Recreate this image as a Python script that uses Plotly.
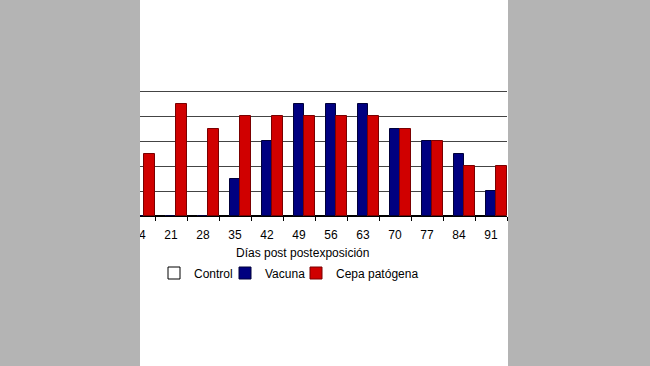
import plotly.graph_objects as go

dias = ["14", "21", "28", "35", "42", "49", "56", "63", "70", "77", "84", "91"]
control = [0, 0, 0, 0, 0, 0, 0, 0, 0, 0, 0, 0]
vacuna = [0, 0, 0, 1.5, 3, 4.5, 4.5, 4.5, 3.5, 3, 2.5, 1]
cepa = [2.5, 4.5, 3.5, 4, 4, 4, 4, 4, 3.5, 3, 2, 2]

W, H = 650, 366
PL, PR, PT, PB = 123, 507, 88, 216  # plot area in pixels
YMAX = 5.12

fig = go.Figure()
fig.add_trace(go.Bar(x=dias, y=control, name="Control", legend="legend",
                     marker=dict(color="white", line=dict(color="black", width=1))))
fig.add_trace(go.Bar(x=dias, y=vacuna, name="Vacuna", legend="legend2",
                     marker=dict(color="#000080", line=dict(color="#00003a", width=1))))
fig.add_trace(go.Bar(x=dias, y=cepa, name="Cepa patógena", legend="legend3",
                     marker=dict(color="#d00000", line=dict(color="#7a0000", width=1))))

def px_x(p):
    return (p - PL) / (PR - PL)

def px_y(p):
    return (PB - p) / (PB - PT)

gray = "#b4b4b4"
shapes = [
    dict(type="rect", xref="paper", yref="paper", x0=px_x(-5), x1=px_x(140),
         y0=px_y(H + 5), y1=px_y(-5), fillcolor=gray, line=dict(width=0), layer="above"),
    dict(type="rect", xref="paper", yref="paper", x0=px_x(508), x1=px_x(W + 5),
         y0=px_y(H + 5), y1=px_y(-5), fillcolor=gray, line=dict(width=0), layer="above"),
]

def leg(px):
    return dict(orientation="h", x=px_x(px), xanchor="left", y=px_y(273), yanchor="middle",
                font=dict(size=12), itemwidth=30, bgcolor="rgba(0,0,0,0)")

fig.update_layout(
    width=W, height=H,
    margin=dict(l=PL, r=W - PR, t=PT, b=H - PB, pad=0),
    paper_bgcolor="white", plot_bgcolor="white",
    barmode="group", bargap=0, bargroupgap=0,
    font=dict(family="Liberation Sans, Arial, sans-serif", size=12, color="black"),
    showlegend=True,
    legend=leg(154), legend2=leg(225), legend3=leg(296),
    shapes=shapes,
    annotations=[dict(text="Días post postexposición", xref="paper", yref="paper",
                      x=px_x(302), y=px_y(253), showarrow=False,
                      xanchor="center", yanchor="middle", font=dict(size=12))],
)
fig.update_xaxes(type="category", showline=True, linecolor="black", linewidth=1,
                 ticks="outside", tickson="boundaries", ticklen=4, tickcolor="black",
                 ticklabelstandoff=8,
                 showgrid=False, tickfont=dict(size=12))
fig.update_yaxes(range=[0, YMAX], dtick=1, showgrid=True, gridcolor="#444444", gridwidth=1,
                 zeroline=False, showticklabels=False, showline=True, linecolor="black")

fig.write_html("out.html", config={"displayModeBar": False},
               post_script="document.body.style.margin='0';document.body.style.overflow='hidden';")
